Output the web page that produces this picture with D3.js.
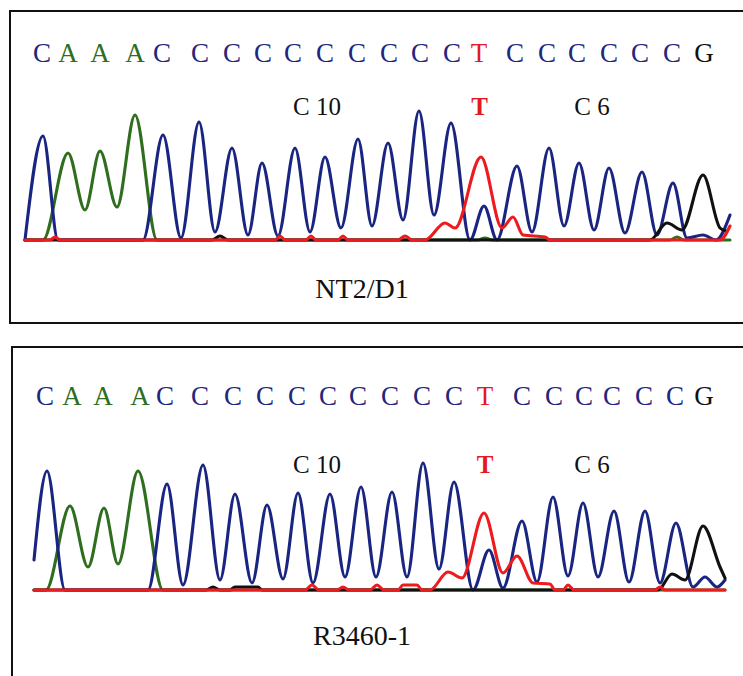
<!DOCTYPE html>
<html>
<head>
<meta charset="utf-8">
<script src="https://cdn.jsdelivr.net/npm/d3@7"></script>
<style>
  html, body { margin: 0; padding: 0; background: #ffffff; }
  svg { display: block; }
  text { font-family: "Liberation Serif", "Times New Roman", serif; }
</style>
</head>
<body>
<svg id="chart" width="743" height="676"></svg>
<script>
// ---------------- DATA ----------------
// Base calls (same sequence for both samples)
const bases = ["C","A","A","A","C","C","C","C","C","C","C","C","C","C","T","C","C","C","C","C","C","G"];
// base-call positions (scan number)
const basePosNT2   = [44,96,160,230,284,360,424,486,546,610,674,738,800,864,918,990,1054,1114,1178,1240,1304,1368];
const basePosR3460 = [50,104,166,240,290,360,426,490,554,616,676,740,804,868,930,1004,1068,1128,1184,1248,1310,1368];

// annotations: [text, scan position]
const annotNT2   = [["C 10", 594], ["T", 919], ["C 6", 1144]];
const annotR3460 = [["C 10", 594], ["T", 930], ["C 6", 1144]];
const sampleNames = ["NT2/D1", "R3460-1"];

// Trace samples [scan, intensity] — sample NT2/D1
const cNT2 = [[10,0],[46,1040],[76,0],[246,0],[286,1050],[322,20],[358,1180],[390,80],[424,920],[456,50],
  [484,770],[516,40],[550,920],[580,80],[610,830],[642,120],[676,1010],[704,140],[736,970],[766,200],
  [798,1290],[828,250],[862,1170],[900,0],[928,340],[954,0],[994,740],[1024,80],[1058,920],[1088,140],
  [1118,770],[1148,100],[1178,720],[1210,70],[1244,680],[1274,50],[1306,570],[1334,20],[1366,50],[1392,0],[1420,250]];
const aNT2 = [[10,0],[46,0],[96,870],[130,300],[160,890],[194,330],[230,1250],[274,0],[916,0],[930,20],[944,0],
  [1300,0],[1314,30],[1328,0],[1420,0]];
const tNT2 = [[10,0],[60,0],[70,30],[80,0],[510,0],[520,40],[530,0],[572,0],[582,40],[592,0],[636,0],[646,40],[656,0],
  [756,0],[770,40],[784,0],[810,0],[850,170],[870,120],[922,830],[964,120],[986,230],[1006,50],[1050,30],[1060,0],
  [1400,0],[1420,140]];
const gNT2 = [[10,0],[384,0],[400,40],[416,0],[1260,0],[1294,170],[1324,100],[1366,650],[1400,120],[1412,90]];

// Trace samples [scan, intensity] — sample R3460-1
const cR3460 = [[28,300],[54,1190],[90,0],[256,0],[294,1060],[326,50],[366,1250],[400,100],[430,960],[464,70],
  [494,850],[526,110],[556,970],[586,70],[620,960],[650,130],[682,1030],[712,130],[744,980],[774,130],
  [806,1270],[838,210],[868,1080],[906,0],[938,400],[966,20],[1004,690],[1034,80],[1066,930],[1096,140],
  [1126,870],[1156,130],[1188,790],[1218,80],[1250,790],[1280,70],[1312,670],[1346,30],[1370,130],[1394,30],[1410,100]];
const aR3460 = [[28,0],[52,0],[100,840],[136,230],[168,820],[196,260],[236,1190],[286,0],[1410,0]];
const tR3460 = [[28,0],[570,0],[584,50],[598,0],[634,0],[646,30],[658,0],[700,0],[714,50],[728,0],[756,0],[766,50],
  [794,50],[804,0],[820,0],[856,180],[884,120],[928,770],[966,170],[994,340],[1026,70],[1060,60],[1070,0],
  [1086,0],[1096,50],[1108,0],[1270,0],[1280,30],[1290,0],[1410,0]];
const gR3460 = [[28,0],[372,0],[386,30],[400,0],[420,0],[430,30],[476,30],[484,0],[1276,0],[1304,160],[1330,100],
  [1366,640],[1400,230],[1410,120]];

// ---------------- DRAWING ----------------
const colors = { C: "#1a2582", A: "#2f6e1e", T: "#ee1a1d", G: "#111111" };
const letterColors = { C: "#22267c", A: "#2f6e22", T: "#e3191f", G: "#111111" };

const svg = d3.select("#chart");
const x = d3.scaleLinear().domain([0, 1440]).range([20, 740]);

const panels = [
  { box: [10, 11, 760, 323], base: 240, seqY: 62, annY: 115, nameY: 298,
    pos: basePosNT2, annot: annotNT2, name: sampleNames[0],
    traces: { A: aNT2, C: cNT2, G: gNT2, T: tNT2 } },
  { box: [12, 347, 760, 700], base: 590, seqY: 405, annY: 473, nameY: 645,
    pos: basePosR3460, annot: annotR3460, name: sampleNames[1],
    traces: { A: aR3460, C: cR3460, G: gR3460, T: tR3460 } }
];

panels.forEach(p => {
  const g = svg.append("g");
  const [x0, y0, x1, y1] = p.box;
  g.append("rect").attr("x", x0).attr("y", y0).attr("width", x1 - x0).attr("height", y1 - y0)
    .attr("fill", "#ffffff").attr("stroke", "#111").attr("stroke-width", 2);

  const y = d3.scaleLinear().domain([0, 1400]).range([p.base, p.base - 140]);
  const line = d3.line().x(d => x(d[0])).y(d => y(d[1])).curve(d3.curveMonotoneX);

  ["A", "C", "G", "T"].forEach(ch => {
    g.append("path").datum(p.traces[ch]).attr("d", line)
      .attr("fill", "none").attr("stroke", colors[ch]).attr("stroke-width", 3.1)
      .attr("stroke-linejoin", "round").attr("stroke-linecap", "round");
  });

  g.selectAll("text.base").data(bases).join("text").attr("class", "base")
    .attr("x", (d, i) => x(p.pos[i])).attr("y", p.seqY)
    .attr("text-anchor", "middle").attr("font-size", 27)
    .attr("fill", d => letterColors[d]).text(d => d);

  g.selectAll("text.ann").data(p.annot).join("text").attr("class", "ann")
    .attr("x", d => x(d[1])).attr("y", p.annY)
    .attr("text-anchor", "middle").attr("font-size", 25)
    .attr("font-weight", d => d[0] === "T" ? "bold" : "normal")
    .attr("fill", d => d[0] === "T" ? letterColors.T : "#111")
    .text(d => d[0]);

  g.append("text").attr("x", 362).attr("y", p.nameY).attr("text-anchor", "middle")
    .attr("font-size", 28).attr("fill", "#111").text(p.name);
});
</script>
</body>
</html>
